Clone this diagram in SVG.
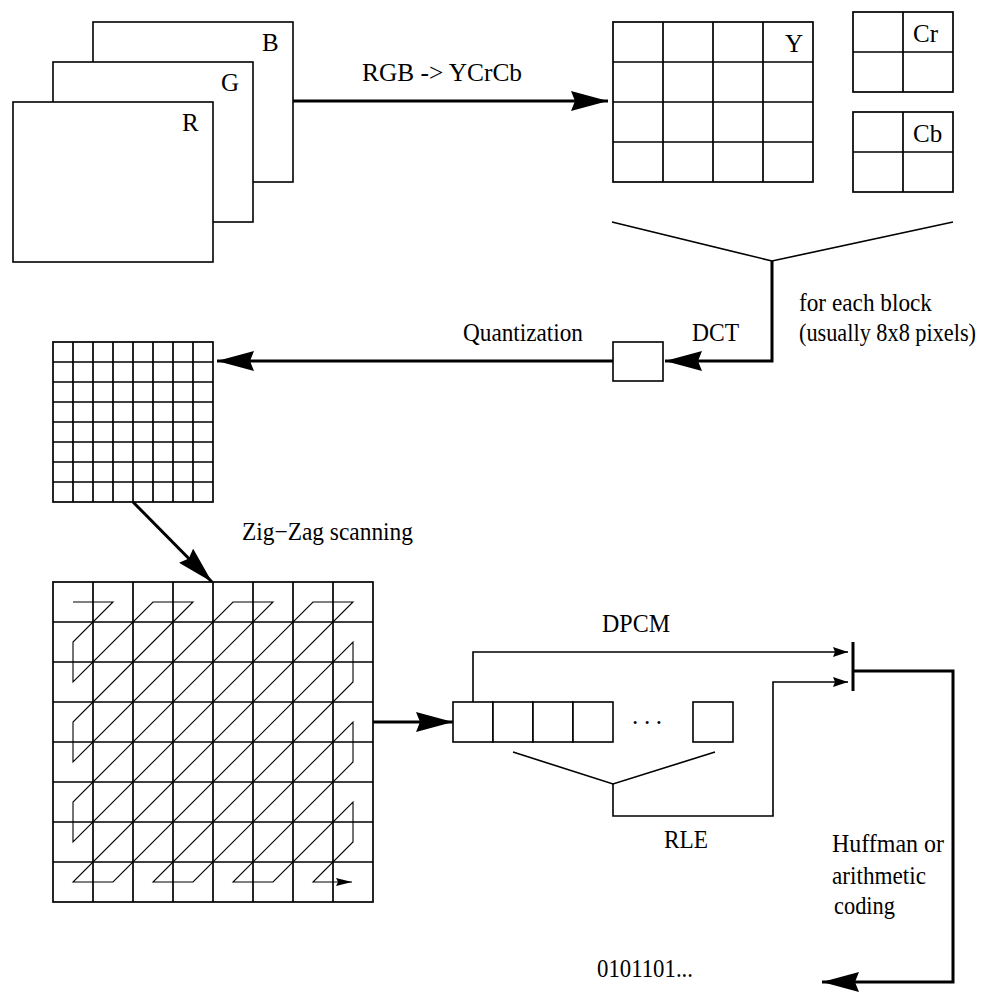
<svg xmlns="http://www.w3.org/2000/svg" width="992" height="992" viewBox="0 0 992 992">
<style>
.box{fill:#fff;stroke:#000;stroke-width:1.6}
.grid{fill:none;stroke:#000;stroke-width:1.7}
.thin{fill:none;stroke:#000;stroke-width:1.6}
.thick{fill:none;stroke:#000;stroke-width:3}
.zz{fill:none;stroke:#000;stroke-width:1.1}
text{font-family:"Liberation Serif","Times New Roman",serif;font-size:25px;fill:#000}
</style>
<defs>
<marker id="big" markerUnits="userSpaceOnUse" viewBox="0 0 37 20" refX="37" refY="10" markerWidth="37" markerHeight="20" orient="auto"><path d="M0,0 L37,10 L0,20 L4,10 z" fill="#000"/></marker>
<marker id="small" markerUnits="userSpaceOnUse" viewBox="0 0 15 10" refX="15" refY="5" markerWidth="15" markerHeight="10" orient="auto"><path d="M0,0 L15,5 L0,10 L2,5 z" fill="#000"/></marker>
<marker id="tiny" markerUnits="userSpaceOnUse" viewBox="0 0 16 8" refX="16" refY="4" markerWidth="16" markerHeight="8" orient="auto"><path d="M0,0 L16,4 L0,8 L2,4 z" fill="#000"/></marker>
</defs>

<g id="frames">
<rect class="box" x="93" y="22" width="200" height="160"/>
<text x="262" y="51">B</text>
<rect class="box" x="53" y="62" width="200" height="160"/>
<text x="221" y="91">G</text>
<rect class="box" x="13" y="102" width="200" height="160"/>
<text x="182" y="131">R</text>
</g>

<g id="y-block">
<rect class="grid" x="613" y="22" width="200" height="160"/>
<path class="grid" d="M663,22V182M713,22V182M763,22V182M613,62H813M613,102H813M613,142H813"/>
<text x="785" y="52">Y</text>
</g>

<g id="cr-block">
<rect class="grid" x="853" y="12" width="100" height="80"/>
<path class="grid" d="M903,12V92M853,52H953"/>
<text x="913" y="42">Cr</text>
</g>

<g id="cb-block">
<rect class="grid" x="853" y="112" width="100" height="80"/>
<path class="grid" d="M903,112V192M853,152H953"/>
<text x="913" y="142">Cb</text>
</g>

<g id="dct-box">
<rect class="box" x="613" y="342" width="50" height="39"/>
</g>

<g id="quant-grid">
<rect class="grid" x="53" y="342" width="160" height="160"/>
<path class="grid" d="M73,342V502M93,342V502M113,342V502M133,342V502M153,342V502M173,342V502M193,342V502M53,362H213M53,382H213M53,402H213M53,422H213M53,442H213M53,462H213M53,482H213"/>
</g>

<g id="zigzag-grid">
<rect class="grid" x="53" y="582" width="320" height="320"/>
<path class="grid" d="M93,582V902M133,582V902M173,582V902M213,582V902M253,582V902M293,582V902M333,582V902M53,622H373M53,662H373M53,702H373M53,742H373M53,782H373M53,822H373M53,862H373"/>
<path class="zz" marker-end="url(#tiny)" d="M73,602L113,602L73,642L73,682L153,602L193,602L73,722L73,762L233,602L273,602L73,802L73,842L313,602L353,602L73,882L113,882L353,642L353,682L153,882L193,882L353,722L353,762L233,882L273,882L353,802L353,842L313,882L352,882"/>
</g>

<g id="sequence">
<rect class="box" x="453" y="702" width="40" height="40"/>
<rect class="box" x="493" y="702" width="40" height="40"/>
<rect class="box" x="533" y="702" width="40" height="40"/>
<rect class="box" x="573" y="702" width="40" height="40"/>
<rect class="box" x="693" y="702" width="40" height="40"/>
<text x="632" y="724" font-size="16" textLength="30" lengthAdjust="spacing">. . .</text>
</g>

<g id="connectors">
<path class="thick" marker-end="url(#big)" d="M293,101H608"/>
<path class="thin" stroke-width="2.2" d="M612,222L772,261L953,222"/>
<path class="thick" marker-end="url(#big)" d="M772,261V361H665"/>
<path class="thick" marker-end="url(#big)" d="M613,361H217"/>
<path class="thick" marker-end="url(#big)" d="M133,502L212,582"/>
<path class="thick" marker-end="url(#big)" d="M373,722H453"/>
<path class="thin" marker-end="url(#small)" d="M473,702V652H848"/>
<path class="thin" d="M513,752L613,784L715,752"/>
<path class="thin" marker-end="url(#small)" d="M613,784V816H773V682H848"/>
<path class="thick" d="M853,642V691"/>
<path class="thick" marker-end="url(#big)" d="M853,671H953V982H822"/>
</g>

<g id="labels">
<text x="362" y="81" textLength="160" lengthAdjust="spacingAndGlyphs">RGB -&gt; YCrCb</text>
<text x="692" y="341" textLength="47" lengthAdjust="spacingAndGlyphs">DCT</text>
<text x="799" y="311" textLength="133" lengthAdjust="spacingAndGlyphs">for each block</text>
<text x="799" y="341" font-size="20" textLength="177" lengthAdjust="spacingAndGlyphs">(usually 8x8 pixels)</text>
<text x="463" y="341" textLength="120" lengthAdjust="spacingAndGlyphs">Quantization</text>
<text x="242" y="540" textLength="171" lengthAdjust="spacingAndGlyphs">Zig−Zag scanning</text>
<text x="602" y="632" textLength="68" lengthAdjust="spacingAndGlyphs">DPCM</text>
<text x="664" y="848" textLength="44" lengthAdjust="spacingAndGlyphs">RLE</text>
<text x="832" y="852" textLength="112" lengthAdjust="spacingAndGlyphs">Huffman or</text>
<text x="832" y="884" textLength="94" lengthAdjust="spacingAndGlyphs">arithmetic</text>
<text x="834" y="914" textLength="61" lengthAdjust="spacingAndGlyphs">coding</text>
<text x="597" y="977" textLength="96" lengthAdjust="spacingAndGlyphs">0101101...</text>
</g>
</svg>
